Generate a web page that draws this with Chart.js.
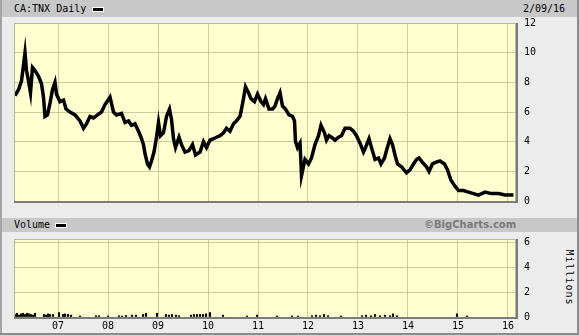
<!DOCTYPE html>
<html>
<head>
<meta charset="utf-8">
<script src="https://cdn.jsdelivr.net/npm/chart.js@4.4.1/dist/chart.umd.min.js"></script>
<style>
  body { margin: 0; width: 579px; height: 335px; overflow: hidden; background: #ececec; position: relative; font-family: "DejaVu Sans Mono", monospace; }
  .bar { position: absolute; left: 2px; right: 2px; background: #c8c8c8; }
  .lbl { position: absolute; font-size: 10px; color: #000; white-space: nowrap; }
  .swatch { position: absolute; width: 10px; height: 3px; background: #000; border: 1px solid #fff; }
  canvas { position: absolute; left: 0; }
  #edgeL { position: absolute; left: 0; top: 0; width: 2px; height: 335px; background: #a4a4a4; }
  #edgeR { position: absolute; right: 0; top: 0; width: 2px; height: 335px; background: #8c8c8c; }
  #edgeB { position: absolute; left: 0; bottom: 0; width: 579px; height: 2px; background: #8c8c8c; }
</style>
</head>
<body>
<div class="bar" style="top:0;height:17px"></div>
<div class="bar" style="top:218px;height:14px"></div>
<div class="lbl" style="left:14px;top:3px">CA:TNX Daily</div>
<div class="swatch" style="left:92px;top:7px"></div>
<div class="lbl" style="left:523px;top:3px">2/09/16</div>
<div class="lbl" style="left:14px;top:219px">Volume</div>
<div class="swatch" style="left:55px;top:223px"></div>
<div class="lbl" style="left:424px;top:219px;font-family:'DejaVu Sans';font-weight:bold;color:#7a7a7a">©BigCharts.com</div>
<div class="lbl" style="left:541px;top:272px;transform:rotate(90deg);letter-spacing:1px">Millions</div>
<div id="edgeL"></div><div id="edgeR"></div><div id="edgeB"></div>
<canvas id="priceChart" width="579" height="215" style="top:0"></canvas>
<canvas id="volumeChart" width="579" height="120" style="top:215px"></canvas>
<script>
// x positions are decimal years
const years = [2006.14, 2006.21, 2006.27, 2006.34, 2006.37, 2006.41, 2006.45, 2006.49, 2006.54, 2006.61,
  2006.67, 2006.71, 2006.74, 2006.79, 2006.84, 2006.89, 2006.94, 2006.97, 2007.04, 2007.11,
  2007.16, 2007.24, 2007.34, 2007.44, 2007.51, 2007.57, 2007.64, 2007.71, 2007.79, 2007.87,
  2007.94, 2008.04, 2008.11, 2008.17, 2008.27, 2008.34, 2008.41, 2008.47, 2008.54, 2008.61,
  2008.66, 2008.71, 2008.74, 2008.79, 2008.83, 2008.87, 2008.92, 2008.97, 2009.01, 2009.05,
  2009.11, 2009.17, 2009.23, 2009.27, 2009.31, 2009.35, 2009.42, 2009.47, 2009.54, 2009.62,
  2009.69, 2009.75, 2009.84, 2009.91, 2009.97, 2010.04, 2010.11, 2010.17, 2010.24, 2010.31,
  2010.37, 2010.44, 2010.51, 2010.57, 2010.64, 2010.67, 2010.71, 2010.75, 2010.81, 2010.86,
  2010.93, 2010.99, 2011.06, 2011.11, 2011.15, 2011.22, 2011.29, 2011.34, 2011.39, 2011.44,
  2011.49, 2011.55, 2011.62, 2011.69, 2011.73, 2011.75, 2011.79, 2011.84, 2011.86, 2011.87,
  2011.94, 2012.01, 2012.07, 2012.14, 2012.21, 2012.26, 2012.33, 2012.37, 2012.42, 2012.47,
  2012.54, 2012.61, 2012.67, 2012.74, 2012.81, 2012.84, 2012.91, 2012.97, 2013.04, 2013.11,
  2013.15, 2013.22, 2013.27, 2013.34, 2013.41, 2013.46, 2013.53, 2013.57, 2013.64, 2013.69,
  2013.74, 2013.79, 2013.87, 2013.97, 2014.04, 2014.11, 2014.17, 2014.22, 2014.29, 2014.37,
  2014.42, 2014.49, 2014.55, 2014.64, 2014.73, 2014.79, 2014.86, 2014.94, 2015.01, 2015.11,
  2015.21, 2015.31, 2015.41, 2015.54, 2015.67, 2015.81, 2015.94, 2016.11];
const yields = [7.1, 7.5, 8.1, 10.0, 8.8, 8.1, 7.3, 9.0, 8.8, 8.4,
  7.9, 7.0, 5.7, 5.8, 6.6, 7.5, 8.0, 7.2, 6.7, 6.8,
  6.2, 6.0, 5.8, 5.4, 4.9, 5.2, 5.7, 5.6, 5.8, 6.0,
  6.5, 7.0, 6.0, 5.8, 5.9, 5.3, 5.4, 5.1, 5.2, 4.7,
  4.3, 3.8, 3.2, 2.5, 2.3, 2.7, 3.3, 4.3, 5.3, 4.4,
  4.6, 5.7, 6.2, 5.5, 4.2, 3.6, 4.3, 3.8, 3.3, 3.4,
  3.8, 3.1, 3.3, 4.0, 3.6, 4.1, 4.2, 4.3, 4.4, 4.6,
  4.9, 4.7, 5.2, 5.4, 5.7, 6.2, 6.9, 7.7, 7.3, 6.9,
  6.7, 7.2, 6.7, 6.5, 6.9, 6.2, 6.2, 6.4, 6.9, 7.3,
  6.4, 6.2, 5.8, 5.7, 5.4, 4.0, 3.6, 3.9, 2.5, 1.7,
  2.8, 2.5, 2.9, 3.8, 4.4, 5.1, 4.6, 4.1, 4.4, 4.3,
  4.1, 4.3, 4.4, 4.9, 4.9, 4.9, 4.7, 4.4, 3.9, 3.3,
  3.6, 4.2, 3.6, 2.8, 2.9, 2.5, 2.9, 3.4, 4.2, 3.8,
  3.1, 2.5, 2.3, 1.9, 2.1, 2.5, 2.8, 2.9, 2.6, 2.3,
  2.0, 2.5, 2.6, 2.7, 2.5, 2.1, 1.4, 1.0, 0.7, 0.7,
  0.6, 0.5, 0.4, 0.6, 0.5, 0.5, 0.4, 0.4];

// volume in millions
const volYears = [2006.14, 2006.18, 2006.22, 2006.26, 2006.30, 2006.34, 2006.38, 2006.42, 2006.46, 2006.50,
  2006.54, 2006.72, 2006.76, 2006.80, 2006.84, 2006.90, 2007.02, 2007.10, 2007.14, 2007.20,
  2007.26, 2007.44, 2007.76, 2007.82, 2008.00, 2008.22, 2008.28, 2008.36, 2008.48, 2008.56,
  2008.70, 2008.76, 2008.98, 2009.16, 2009.22, 2009.28, 2009.36, 2009.42, 2009.66, 2009.72,
  2009.78, 2009.84, 2009.90, 2009.96, 2010.04, 2010.30, 2010.78, 2010.98, 2011.38, 2011.68,
  2011.80, 2012.08, 2012.16, 2012.24, 2012.32, 2012.40, 2012.66, 2013.08, 2013.16, 2013.26,
  2013.34, 2013.44, 2013.54, 2013.64, 2013.70, 2013.78, 2014.98, 2015.18];
const volumes = [0.2, 0.3, 0.15, 0.25, 0.3, 0.2, 0.3, 0.25, 0.2, 0.15,
  0.3, 0.2, 0.15, 0.25, 0.2, 0.2, 0.35, 0.2, 0.25, 0.2,
  0.15, 0.08, 0.1, 0.1, 0.08, 0.1, 0.08, 0.12, 0.15, 0.15,
  0.2, 0.3, 0.3, 0.2, 0.15, 0.2, 0.15, 0.1, 0.15, 0.2,
  0.2, 0.2, 0.2, 0.25, 0.35, 0.15, 0.08, 0.15, 0.08, 0.08,
  0.08, 0.1, 0.15, 0.1, 0.2, 0.1, 0.08, 0.1, 0.15, 0.1,
  0.2, 0.1, 0.15, 0.1, 0.25, 0.1, 0.25, 0.08];

const yearTicks = [2007, 2008, 2009, 2010, 2011, 2012, 2013, 2014, 2015, 2016];
const yearLabels = ['07', '08', '09', '10', '11', '12', '13', '14', '15', '16'];
const priceTicks = [0, 2, 4, 6, 8, 10, 12];
const volTicks = [0, 2, 4, 6];

const xMin = 2006.12, xMax = 2016.16;
const gridColor = '#cccc99';
const tickFont = { family: 'DejaVu Sans Mono', size: 10 };

// fill the plot area pale yellow before the grid is drawn
const plotBg = {
    id: 'plotBg',
    beforeDraw(chart) {
        const a = chart.chartArea, c = chart.ctx;
        c.save();
        c.fillStyle = '#ffffcf';
        c.fillRect(a.left, a.top, a.right - a.left, a.bottom - a.top);
        c.restore();
    },
    afterDraw(chart) {
        const a = chart.chartArea, c = chart.ctx;
        c.save();
        c.strokeStyle = '#b8b8a0';
        c.lineWidth = 1;
        c.strokeRect(a.left + 0.5, a.top + 0.5, a.right - a.left - 1, a.bottom - a.top);
        c.strokeStyle = '#7c7c7c';
        c.lineWidth = 2;
        c.beginPath();
        c.moveTo(a.left, a.bottom + 1);
        c.lineTo(a.right + 1, a.bottom + 1);
        c.lineTo(a.right + 1, a.top);
        c.stroke();
        c.restore();
    }
};

function xScale(showLabels, height) {
    return {
        type: 'linear', min: xMin, max: xMax, offset: false,
        afterBuildTicks: s => { s.ticks = yearTicks.map(v => ({ value: v })); },
        afterFit: s => { s.height = height; },
        grid: { color: gridColor, drawTicks: false, offset: false },
        border: { display: false },
        ticks: {
            display: showLabels, color: '#000', font: tickFont, padding: 3, maxRotation: 0,
            callback: v => yearLabels[yearTicks.indexOf(v)]
        }
    };
}

function yScale(min, max, ticks) {
    return {
        position: 'right', min: min, max: max,
        afterBuildTicks: s => { s.ticks = ticks.map(v => ({ value: v })); },
        afterFit: s => { s.width = 63; },
        grid: { color: gridColor, drawTicks: false },
        border: { display: false },
        ticks: { color: '#000', font: tickFont, padding: 8 }
    };
}

new Chart(document.getElementById('priceChart'), {
    type: 'line',
    data: {
        datasets: [{
            data: years.map((t, i) => ({ x: t, y: yields[i] })),
            borderColor: '#000',
            borderWidth: 3.5,
            pointRadius: 0,
            tension: 0
        }]
    },
    options: {
        responsive: false,
        animation: false,
        layout: { padding: { left: 14, top: 23, right: 0, bottom: 7 } },
        plugins: { legend: { display: false }, tooltip: { enabled: false } },
        scales: { x: xScale(false, 0), y: yScale(0, 12, priceTicks) }
    },
    plugins: [plotBg]
});

new Chart(document.getElementById('volumeChart'), {
    type: 'bar',
    data: {
        datasets: [{
            data: volYears.map((t, i) => ({ x: t, y: volumes[i] })),
            backgroundColor: '#000',
            barThickness: 1.5
        }]
    },
    options: {
        responsive: false,
        animation: false,
        layout: { padding: { left: 14, top: 24, right: 0, bottom: 0 } },
        plugins: { legend: { display: false }, tooltip: { enabled: false } },
        scales: { x: xScale(true, 18), y: yScale(0, 6.24, volTicks) }
    },
    plugins: [plotBg]
});
</script>
</body>
</html>
